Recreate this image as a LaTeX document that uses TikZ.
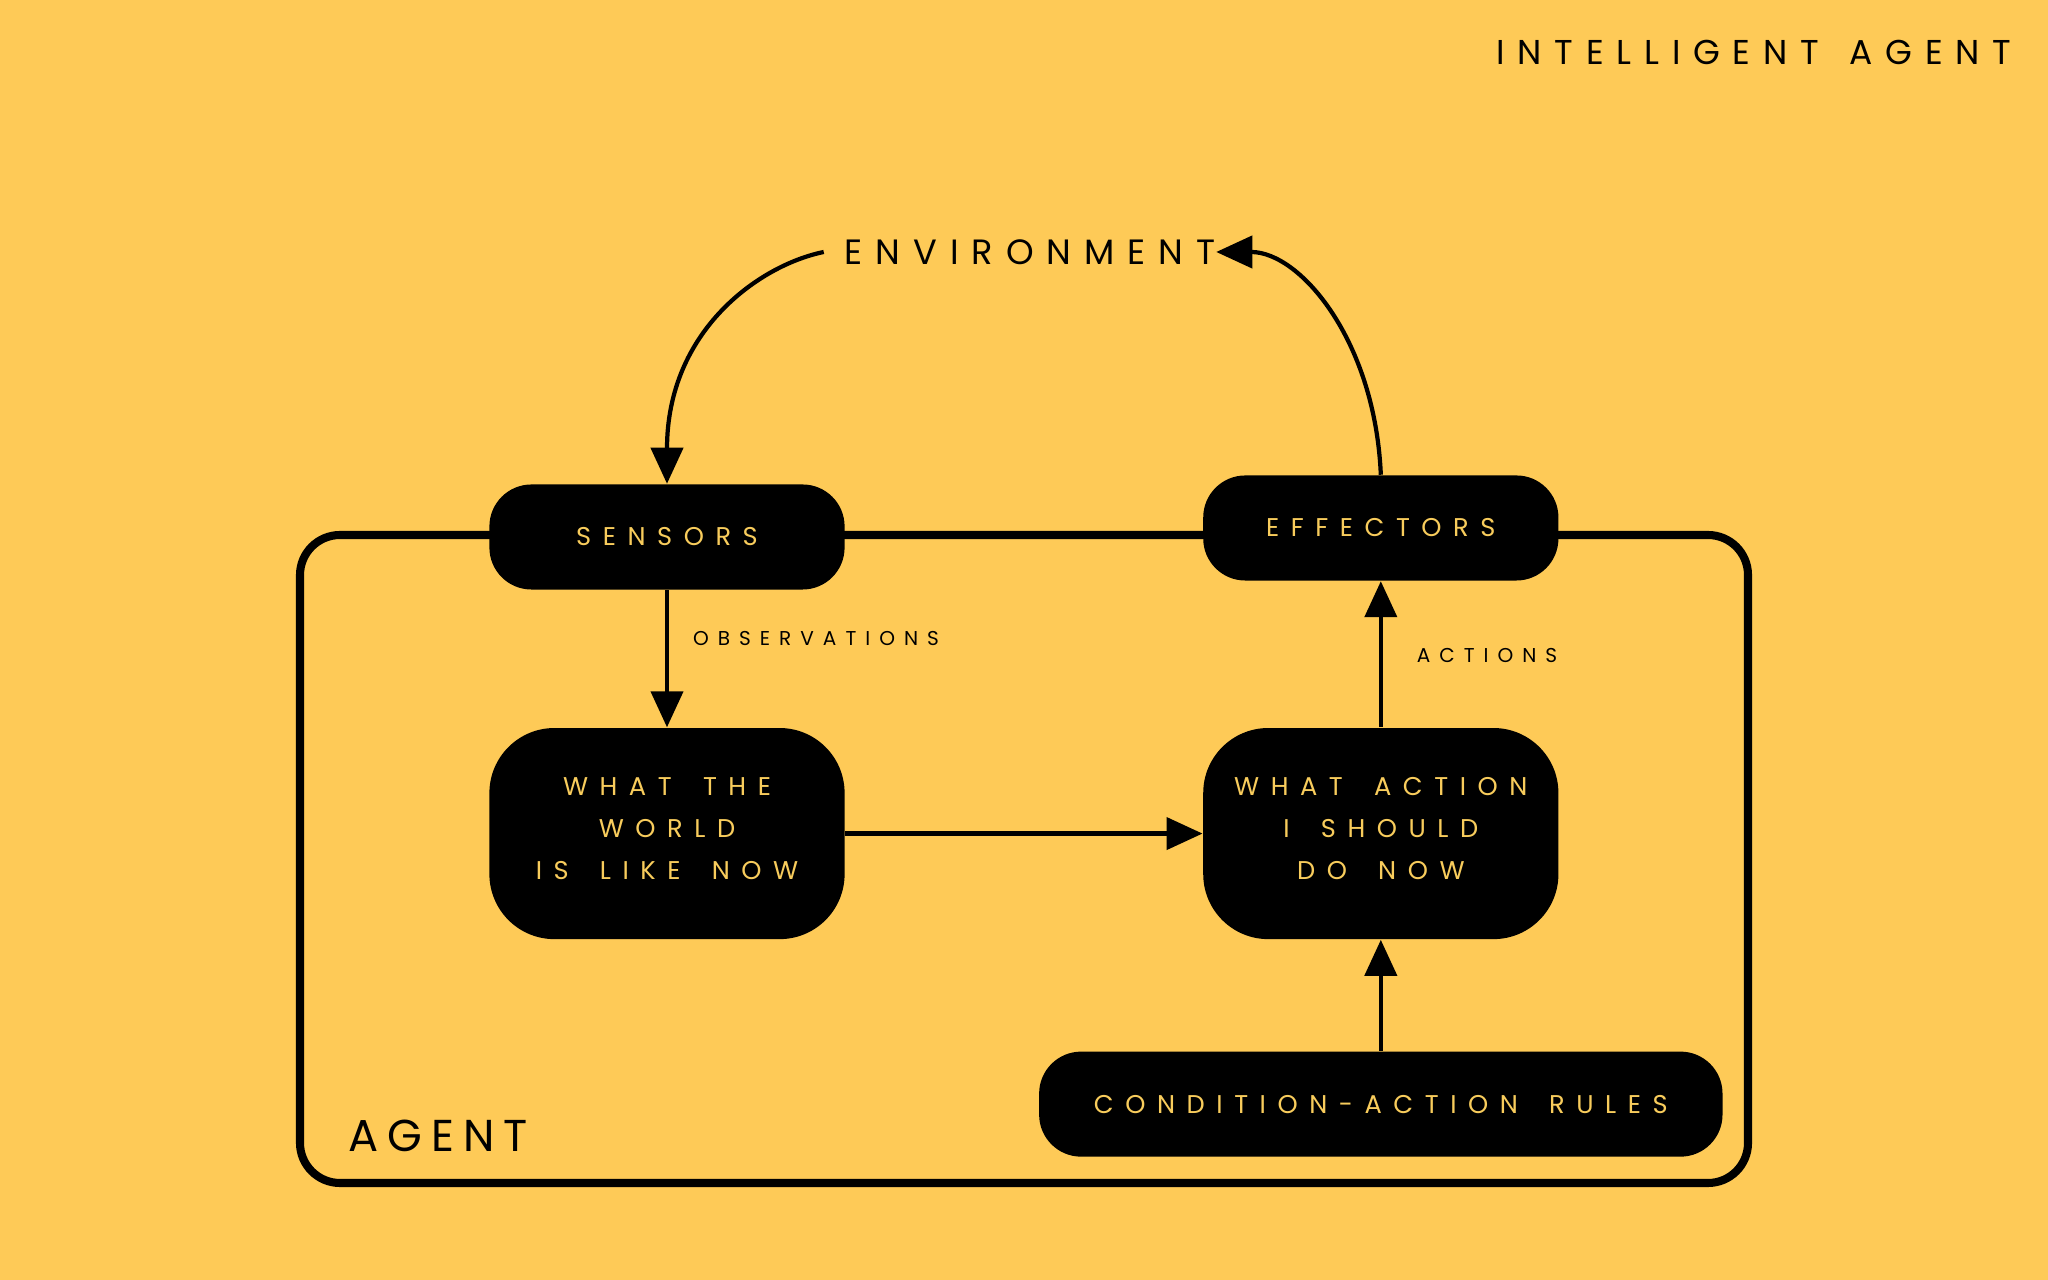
\documentclass[tikz,border=0pt]{standalone}
\usepackage{fontspec}
\newfontfamily\headfont[LetterSpace=37,WordSpace=1.4]{Poppins}
\newfontfamily\boxfont[LetterSpace=45,WordSpace=1.7]{Poppins}
\newfontfamily\agentfont[LetterSpace=20]{Poppins}
\usepackage{tikz}
\usetikzlibrary{positioning}
\usetikzlibrary{arrows.meta}
\definecolor{background}{RGB}{254,202,87}
\definecolor{boxtext}{RGB}{248,204,92}

\begin{document}
\begin{tikzpicture}[x=0.01cm,y=-0.01cm,
  box/.style={fill=black,text=boxtext,align=center,inner sep=0pt,
    font=\boxfont\fontsize{7.3}{12}\selectfont,
    minimum width=3.55cm,minimum height=1.05cm,rounded corners=0.42cm},
  tallbox/.style={box,minimum height=2.11cm,rounded corners=0.65cm},
  smalllabel/.style={font=\boxfont\fontsize{5.7}{7}\selectfont,inner sep=0pt},
  arr/.style={line width=1.2pt,-{Triangle[length=0.36cm,width=0.32cm]}}]
\fill[background] (0,0) rectangle (2048,1280);

% agent frame
\draw[line width=2.3pt,rounded corners=0.4cm] (300,535) rectangle (1748,1183);

\node (title) at (1754,52) [font=\headfont\fontsize{9.8}{12}\selectfont] {INTELLIGENT AGENT};
\node (env) at (1030,252) [font=\headfont\fontsize{10}{12}\selectfont,inner sep=0pt] {ENVIRONMENT};
\node (agent) at (438,1136) [font=\agentfont\fontsize{12.7}{14}\selectfont] {AGENT};

\node (sensors) at (667,537) [box] {SENSORS};
\node (world) [below=1.37cm of sensors,tallbox] {WHAT THE\\WORLD\\IS LIKE NOW\rule[-0.1cm]{0pt}{0pt}};
\node (action) [right=3.57cm of world,tallbox] {WHAT ACTION\\I SHOULD\\DO NOW\rule[-0.1cm]{0pt}{0pt}};
\node (effectors) [above=1.46cm of action,box] {EFFECTORS};
\node (rules) [below=1.11cm of action,box,minimum width=6.83cm] {CONDITION-ACTION RULES};

\node (obs) at (816,639) [smalllabel] {OBSERVATIONS};
\node (act) at (1487,656) [smalllabel] {ACTIONS};

\draw[arr] ([xshift=-0.2cm]env.west) .. controls (760,265) and (667,330) .. (sensors.north);
\draw[arr] (effectors.north) .. controls (1375,340) and (1300,252) .. (env.east);
\draw[arr] (sensors) -- (world);
\draw[arr] (world) -- (action);
\draw[arr] (action) -- (effectors);
\draw[arr] (rules) -- (action);
\end{tikzpicture}
\end{document}
